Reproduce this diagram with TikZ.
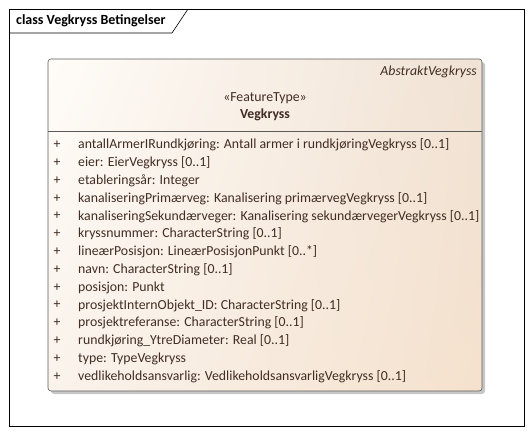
\documentclass[tikz,border=0pt]{standalone}
\usepackage{fontspec}
\setmainfont{Carlito}
\usetikzlibrary{calc,shadings}
\definecolor{boxul}{RGB}{255,252,248}
\definecolor{boxll}{RGB}{250,243,236}
\definecolor{boxur}{RGB}{240,226,212}
\definecolor{boxlr}{RGB}{245,225,205}
\definecolor{boxline}{RGB}{90,90,90}
\definecolor{textbrown}{RGB}{65,45,35}
\begin{document}
\begin{tikzpicture}[x=1pt,y=-1pt,
    attr/.style={anchor=west, inner sep=0pt, font=\fontsize{13.8}{16}\selectfont},
    plus/.style={anchor=center, inner sep=0pt, font=\fontsize{13.8}{16}\selectfont}]
		%%%%% START %%%%%
		\useasboundingbox (0,0) rectangle (531,434);
		
		\draw[line width=0.8pt] (9,9) rectangle (524,426);
		\draw[line width=0.6pt] (9,33) -- (172,33) -- (188,9);
		\node[anchor=west, inner sep=0pt, font=\fontsize{14}{16}\selectfont\bfseries] (title) at (16,21) {class Vegkryss Betingelser};
		
		\fill[black!22, rounded corners=3pt] (51,62) rectangle (485,394);
		\shade[rounded corners=3pt, upper left=boxul, lower right=boxlr, upper right=boxur, lower left=boxll] (48,59) rectangle (482,391);
		\draw[boxline, line width=0.6pt, rounded corners=3pt] (48,59) rectangle (482,391);
		\draw[boxline, line width=0.6pt] (48,131) -- (482,131);
		
		\node[anchor=east, inner sep=0pt, font=\fontsize{13.8}{16}\selectfont\itshape, textbrown] (parent) at (477,72) {AbstraktVegkryss};
		\node[inner sep=0pt, font=\fontsize{13.8}{16}\selectfont, textbrown] (stereo) at (265,98) {«FeatureType»};
		\node[inner sep=0pt, font=\fontsize{13.8}{16}\selectfont\bfseries, textbrown] (name) at (265,115) {Vegkryss};
		
		\foreach \txt [count=\i from 0] in {
		    {antallArmerIRundkjøring: Antall armer i rundkjøringVegkryss [0..1]},
		    {eier: EierVegkryss [0..1]},
		    {etableringsår: Integer},
		    {kanaliseringPrimærveg: Kanalisering primærvegVegkryss [0..1]},
		    {kanaliseringSekundærveger: Kanalisering sekundærvegerVegkryss [0..1]},
		    {kryssnummer: CharacterString [0..1]},
		    {lineærPosisjon: LineærPosisjonPunkt [0..*]},
		    {navn: CharacterString [0..1]},
		    {posisjon: Punkt},
		    {prosjektInternObjekt\_ID: CharacterString [0..1]},
		    {prosjektreferanse: CharacterString [0..1]},
		    {rundkjøring\_YtreDiameter: Real [0..1]},
		    {type: TypeVegkryss},
		    {vedlikeholdsansvarlig: VedlikeholdsansvarligVegkryss [0..1]}} {
		    \node[plus, textbrown] (p\i) at (57,{145+17.8*\i}) {+};
		    \node[attr, textbrown] (a\i) at (78,{145+17.8*\i}) {\txt};
		}
		%%%%% END %%%%%
	\end{tikzpicture}
\end{document}
